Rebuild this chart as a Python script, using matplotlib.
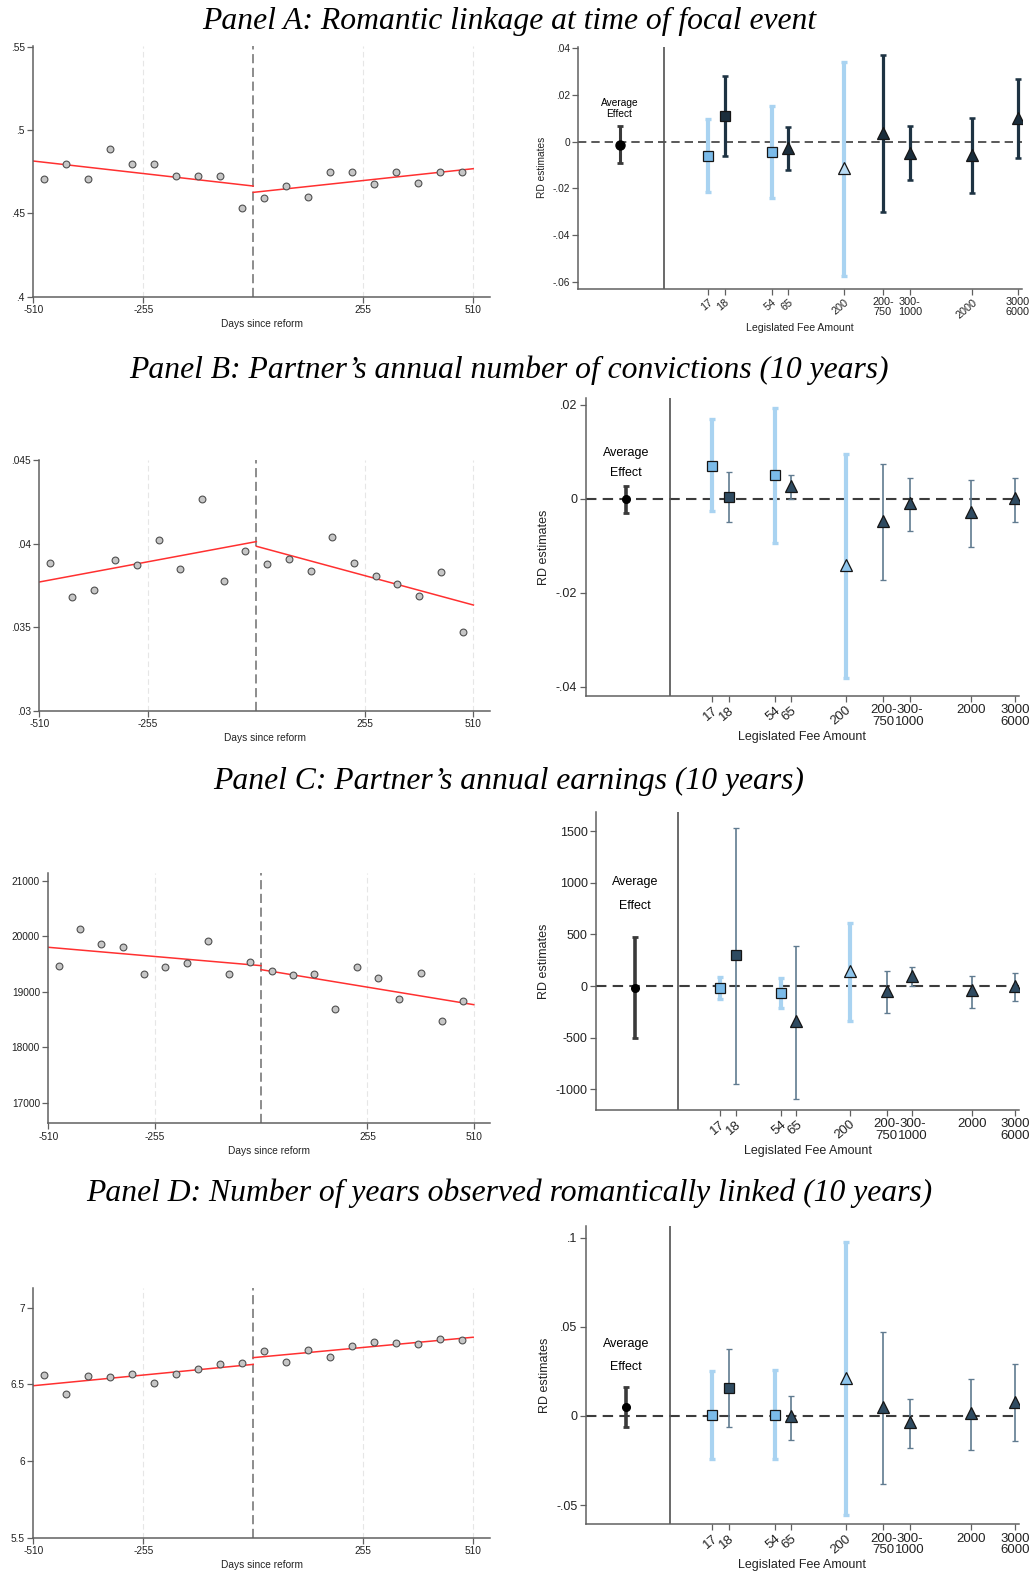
import re
import numpy as np
import matplotlib
matplotlib.use('Agg')
import matplotlib.pyplot as plt

plt.rcParams['font.family'] = ['Liberation Sans', 'DejaVu Sans']

# ---- binned scatter data (days since reform) ----
bin_x = [-484.5, -433.5, -382.5, -331.5, -280.5, -229.5, -178.5, -127.5, -76.5, -25.5,
         25.5, 76.5, 127.5, 178.5, 229.5, 280.5, 331.5, 382.5, 433.5, 484.5]

link_y = [.4706, .4798, .4706, .4888, .4798, .4798, .4722, .4726, .4722, .4534,
          .4592, .4666, .4598, .4750, .4750, .4678, .4750, .4680, .4750, .4750]
link_fit = [[.4814, .4664], [.4626, .4768]]

conv_y = [.03887, .03681, .03721, .03901, .03871, .04023, .03847, .04270, .03777, .03955,
          .03877, .03911, .03835, .04039, .03883, .03807, .03759, .03689, .03833, .03473]
conv_fit = [[.03771, .04013], [.03985, .03633]]

earn_y = [19471, 20130, 19861, 19801, 19327, 19453, 19513, 19921, 19327, 19537,
          19375, 19297, 19327, 18691, 19453, 19243, 18865, 19333, 18469, 18829]
earn_fit = [[19801, 19471], [19399, 18769]]

years_y = [6.561, 6.435, 6.554, 6.550, 6.567, 6.509, 6.570, 6.598, 6.635, 6.637,
           6.715, 6.648, 6.724, 6.680, 6.752, 6.776, 6.772, 6.763, 6.793, 6.787]
years_fit = [[6.491, 6.630], [6.674, 6.807]]

# ---- RD estimates by legislated fee ----
fee_labels = ['17', '18', '54', '65', '200', '200-\n750', '300-\n1000', '2000', '3000\n6000']
fee_pos = [0, 5.4, 20.7, 26.0, 44.1, 56.5, 65.2, 85.4, 100]
fee_marker = ['s', 's', 's', '^', '^', '^', '^', '^', '^']
fee_light = [True, False, True, False, True, False, False, False, False]
avg_pos = -28.5
divider_pos = -14

avg_a = (-.0013, -.0090, .0066)
est_a = [-.0061, .0110, -.0043, -.0029, -.0114, .0039, -.0049, -.0057, .0100]
lo_a = [-.0216, -.0061, -.0240, -.0123, -.0574, -.0300, -.0164, -.0220, -.0071]
hi_a = [.0096, .0280, .0154, .0064, .0340, .0373, .0066, .0100, .0267]

avg_b = (0.0, -.0031, .0028)
est_b = [.0070, .0003, .0050, .0027, -.0142, -.0047, -.0010, -.0029, .0001]
lo_b = [-.0027, -.0049, -.0094, .0000, -.0382, -.0172, -.0069, -.0103, -.0049]
hi_b = [.0170, .0057, .0194, .0050, .0095, .0074, .0045, .0039, .0045]

avg_c = (-16, -500, 474)
est_c = [-19, 297, -71, -342, 148, -45, 100, -39, 0]
lo_c = [-129, -948, -213, -1090, -335, -265, 3, -213, -142]
hi_c = [87, 1532, 74, 390, 606, 142, 187, 100, 123]

avg_d = (.0052, -.0064, .0162)
est_d = [.0005, .0155, .0005, .0000, .0213, .0052, -.0036, .0014, .0080]
lo_d = [-.0242, -.0064, -.0242, -.0135, -.0554, -.0382, -.0182, -.0193, -.0141]
hi_d = [.0252, .0374, .0256, .0114, .0974, .0473, .0097, .0207, .0289]

titles = ['Panel A: Romantic linkage at time of focal event',
          'Panel B: Partner\u2019s annual number of convictions (10 years)',
          'Panel C: Partner\u2019s annual earnings (10 years)',
          'Panel D: Number of years observed romantically linked (10 years)']

W, H = 1033, 1575
fig = plt.figure(figsize=(W / 100, H / 100), dpi=100)


def box(x0, y0, x1, y1):
    return fig.add_axes([x0 / W, 1 - y1 / H, (x1 - x0) / W, (y1 - y0) / H])


def stata(v):
    return re.sub(r'^(-?)0\.', r'\1.', f'{v:g}')


def style_axes(ax, fs):
    for s in ('top', 'right'):
        ax.spines[s].set_visible(False)
    for s in ('left', 'bottom'):
        ax.spines[s].set_color('#606060')
        ax.spines[s].set_linewidth(1.1)
    ax.tick_params(direction='out', length=4, width=0.9, color='#606060',
                   labelsize=fs, labelcolor='#222222', pad=2)


def rd_panel(ax, y, fit, ylim, yticks):
    style_axes(ax, 7.3)
    ax.set_xlim(-510, 549)
    ax.set_ylim(*ylim)
    for g in (-255, 255, 510):
        ax.axvline(g, color='#e6e6e6', lw=0.8, ls=(0, (5, 3)), zorder=0)
    ax.axvline(0, color='#6e6e6e', lw=1.1, ls=(0, (6, 3)), zorder=1)
    ax.plot([-510, 0], fit[0], color='#ff3030', lw=1.1, zorder=2)
    ax.plot([0, 510], fit[1], color='#ff3030', lw=1.1, zorder=2)
    ax.scatter(bin_x, y, s=24, facecolor='#c6c6c6', edgecolor='#505050', lw=0.8, zorder=3)
    ax.set_xticks([-510, -255, 255, 510])
    ax.set_xticklabels(['-510', '-255', '255', '510'])
    ax.set_yticks(yticks)
    ax.set_yticklabels([stata(v) for v in yticks])
    ax.set_xlabel('Days since reform', fontsize=7.3, color='#222222', labelpad=3)


def fee_panel(ax, avg, est, lo, hi, ylim, yticks, small):
    fs = 7.3 if small else 9
    xfs = 7.8 if small else 9.5
    style_axes(ax, fs)
    ax.set_xlim(-41.8, 101.3)
    ax.set_ylim(*ylim)
    ax.axhline(0, color='#3c3c3c', lw=1.2 if small else 1.5, ls=(0, (5, 3)), zorder=1)
    ax.axvline(divider_pos, color='#505050', lw=1.2, zorder=1)

    if small:
        dark_bar, dark_lw, dark_face, light_tri = '#1e3343', 2.3, '#1b2e3c', '#b9dbf3'
    else:
        dark_bar, dark_lw, dark_face, light_tri = '#607b90', 1.2, '#2f4b61', '#8ec5ec'

    for x, e, l, h, m, lt in zip(fee_pos, est, lo, hi, fee_marker, fee_light):
        bar_col = '#a9d3f1' if lt else dark_bar
        bar_lw = 3.0 if lt else dark_lw
        ax.errorbar([x], [e], yerr=[[e - l], [h - e]], fmt='none', ecolor=bar_col,
                    elinewidth=bar_lw, capsize=2.3, capthick=bar_lw * 0.8, zorder=2)
        if lt:
            face = '#7bbbe9' if m == 's' else light_tri
        else:
            face = dark_face
        ax.plot([x], [e], marker=m, ms=7.5 if m == 's' else 8, mfc=face,
                mec='#151515', mew=0.9, ls='none', zorder=4)

    ax.errorbar([avg_pos], [avg[0]], yerr=[[avg[0] - avg[1]], [avg[2] - avg[0]]], fmt='none',
                ecolor='#3a3a3a', elinewidth=2.2 if small else 2.6, capsize=2.3,
                capthick=2.0, zorder=2)
    ax.plot([avg_pos], [avg[0]], marker='o', ms=6.5 if small else 5.5, mfc='black',
            mec='black', ls='none', zorder=4)

    ax.set_xticks(fee_pos)
    ax.set_xticklabels(fee_labels)
    for i, t in enumerate(ax.get_xticklabels()):
        rotated = i < 5 or (small and i == 7)
        t.set_fontsize(xfs)
        t.set_linespacing(0.95)
        if rotated:
            t.set_rotation(40)
            t.set_ha('right')
            t.set_va('top')
            t.set_rotation_mode('anchor')
        else:
            t.set_ha('center')
    ax.set_yticks(yticks)
    ax.set_yticklabels([stata(v) for v in yticks])
    ax.set_ylabel('RD estimates', fontsize=fs, color='#222222')
    ax.set_xlabel('Legislated Fee Amount', fontsize=7.6 if small else 9, color='#222222',
                  labelpad=2)


left_boxes = [(33.3, 45.7, 490, 296.7), (39.3, 460.3, 490, 710.7),
              (48.3, 873.3, 490, 1123.3), (33.3, 1287.7, 490, 1537.7)]
right_boxes = [(578.3, 46.7, 1021.7, 289), (585.7, 398.3, 1019, 696),
               (596, 811.7, 1019, 1110), (585.7, 1225.7, 1019, 1524.3)]
title_y = [21, 370, 781, 1193]

rd_panel(box(*left_boxes[0]), link_y, link_fit, (.4, .5506), [.4, .45, .5, .55])
rd_panel(box(*left_boxes[1]), conv_y, conv_fit, (.03, .045), [.03, .035, .04, .045])
rd_panel(box(*left_boxes[2]), earn_y, earn_fit, (16635, 21132), [17000, 18000, 19000, 20000, 21000])
rd_panel(box(*left_boxes[3]), years_y, years_fit, (5.5, 7.13), [5.5, 6, 6.5, 7])

ax_a = box(*right_boxes[0])
fee_panel(ax_a, avg_a, est_a, lo_a, hi_a, (-.0631, .0407), [-.06, -.04, -.02, 0, .02, .04], True)
ax_a.text(avg_pos, .0164, 'Average', ha='center', va='center', fontsize=7.3)
ax_a.text(avg_pos, .0119, 'Effect', ha='center', va='center', fontsize=7.3)

ax_b = box(*right_boxes[1])
fee_panel(ax_b, avg_b, est_b, lo_b, hi_b, (-.042, .0214), [-.04, -.02, 0, .02], False)
ax_b.text(avg_pos, .0097, 'Average', ha='center', va='center', fontsize=9)
ax_b.text(avg_pos, .0054, 'Effect', ha='center', va='center', fontsize=9)

ax_c = box(*right_boxes[2])
fee_panel(ax_c, avg_c, est_c, lo_c, hi_c, (-1200, 1687), [-1000, -500, 0, 500, 1000, 1500], False)
ax_c.text(avg_pos, 1010, 'Average', ha='center', va='center', fontsize=9)
ax_c.text(avg_pos, 774, 'Effect', ha='center', va='center', fontsize=9)

ax_d = box(*right_boxes[3])
fee_panel(ax_d, avg_d, est_d, lo_d, hi_d, (-.0608, .1067), [-.05, 0, .05, .1], False)
ax_d.text(avg_pos, .0402, 'Average', ha='center', va='center', fontsize=9)
ax_d.text(avg_pos, .0276, 'Effect', ha='center', va='center', fontsize=9)

for t, y in zip(titles, title_y):
    fig.text(509 / W, 1 - y / H, t, ha='center', va='center', fontsize=22.8,
             family='Liberation Serif', style='italic')

fig.savefig('out.png', dpi=100)
